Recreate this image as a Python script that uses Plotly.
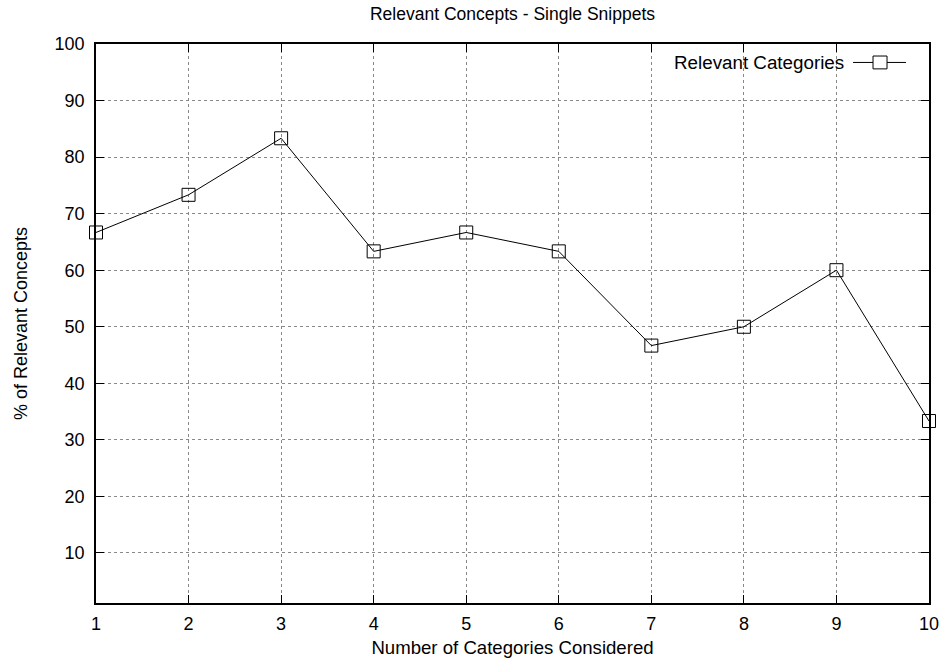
import plotly.graph_objects as go

x_vals = [1, 2, 3, 4, 5, 6, 7, 8, 9, 10]
y_vals = [66.67, 73.33, 83.33, 63.33, 66.67, 63.33, 46.67, 50.0, 60.0, 33.33]
series_name = "Relevant Categories"
y_ticks = [10, 20, 30, 40, 50, 60, 70, 80, 90, 100]

font = "Liberation Sans, Arial, sans-serif"
fs = 18

fig = go.Figure()
fig.add_trace(go.Scatter(
    x=x_vals, y=y_vals, mode="lines+markers", name=series_name,
    line=dict(color="black", width=1),
    marker=dict(symbol="square-open", size=13, color="black", line=dict(width=1)),
    showlegend=False, cliponaxis=False,
))

# legend imitation (gnuplot style: text then sample)
fig.add_annotation(xref="paper", yref="paper", x=0.9005, y=0.967, text=series_name,
                   showarrow=False, xanchor="right", yanchor="middle",
                   font=dict(family=font, size=18.8, color="black"))
fig.add_shape(type="line", xref="paper", yref="paper", x0=0.9088, x1=0.9724, y0=0.967, y1=0.967,
              line=dict(color="black", width=1))
fig.add_shape(type="rect", xref="paper", yref="paper", x0=0.9328, x1=0.9496, y0=0.9555, y1=0.9785,
              line=dict(color="black", width=1), fillcolor="white")

axis_common = dict(
    showline=True, linecolor="black", linewidth=1.5, mirror="allticks",
    ticks="inside", ticklen=8, tickcolor="black", tickwidth=1,
    showgrid=True, gridcolor="#888888", griddash="dot", gridwidth=1,
    zeroline=False, tickfont=dict(family=font, size=fs, color="black"),
    automargin=False,
)

fig.update_xaxes(range=[1, 10], tickvals=x_vals, ticklabelstandoff=4,
                 title=dict(text="Number of Categories Considered", standoff=8,
                            font=dict(family=font, size=18.6, color="black")),
                 **axis_common)
fig.update_yaxes(range=[1.15, 100], tickvals=y_ticks, ticklabelstandoff=6,
                 title=dict(text="% of Relevant Concepts", standoff=22,
                            font=dict(family=font, size=fs, color="black")),
                 **axis_common)

fig.update_layout(
    width=945, height=663,
    margin=dict(l=96, r=16, t=44, b=60),
    paper_bgcolor="white", plot_bgcolor="white",
    title=dict(text="Relevant Concepts - Single Snippets", x=0.5, xref="paper",
               y=1 - 14 / 663, yanchor="middle",
               font=dict(family=font, size=17.5, color="black")),
)

fig.write_html("out.html")
